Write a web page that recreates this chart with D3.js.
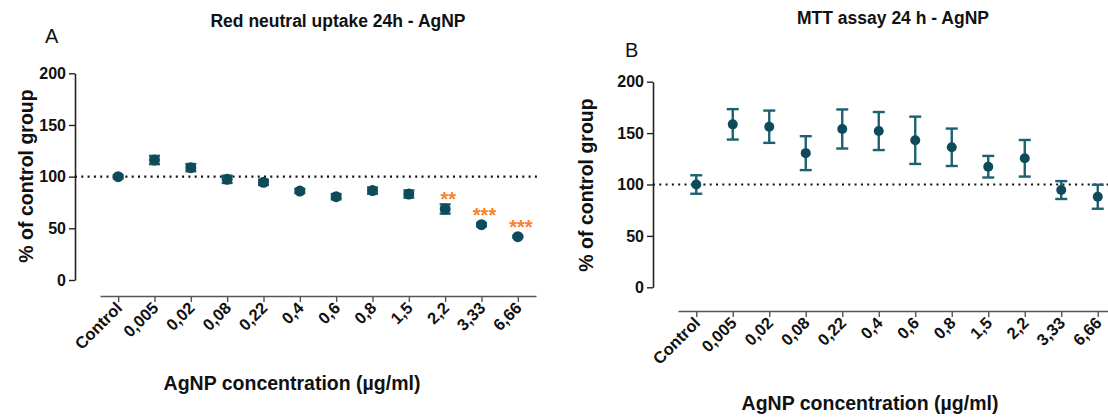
<!DOCTYPE html>
<html>
<head>
<meta charset="utf-8">
<script src="https://cdn.jsdelivr.net/npm/d3@7"></script>
<style>
  body { margin: 0; background: #fff; }
  svg { display: block; font-family: "Liberation Sans", Arial, sans-serif; }
</style>
</head>
<body>
<svg id="chart" width="1108" height="419"></svg>
<script>
// doses on the x axis (same for both panels)
const doses = ["Control", "0,005", "0,02", "0,08", "0,22", "0,4", "0,6", "0,8", "1,5", "2,2", "3,33", "6,66"];

// panel A - red neutral uptake
const nrMean = [100, 116.1, 108.7, 97.4, 94.5, 86.1, 80.6, 86.5, 83.2, 68.7, 53.5, 41.9];
const nrSem = [1.5, 4, 3.5, 3.5, 2.5, 2, 2.5, 3, 3.5, 4.5, 1.5, 1];
const nrSig = ["", "", "", "", "", "", "", "", "", "**", "***", "***"];

// panel B - MTT assay
const mttMean = [100, 158.5, 156.2, 130.5, 154, 152, 143, 136.2, 117.3, 125.5, 94.6, 88.1];
const mttSem = [9, 14.8, 15.7, 16.5, 19, 18.5, 23, 18.2, 10.5, 17.8, 8.7, 11.7];

const yTicks = [0, 50, 100, 150, 200];

const svg = d3.select("#chart");
const dotColor = "#0d4b5b";
const barColor = "#1d6170";
const starColor = "#ff7f27";

function drawPanel(p) {
    const g = svg.append("g");

    const x = d3.scalePoint().domain(doses).range(p.xRange).padding(0.5);
    const y = d3.scaleLinear().domain([0, 200]).range(p.yRange);

    // y axis
    const yAxis = g.append("g")
        .attr("transform", `translate(${p.yAxisX},0)`)
        .call(d3.axisLeft(y).tickValues(yTicks).tickSize(6).tickSizeOuter(0).tickPadding(3));
    yAxis.select(".domain").attr("stroke", "#222").attr("stroke-width", 1.6);
    yAxis.selectAll(".tick line").attr("stroke", "#222").attr("stroke-width", 1.4);
    yAxis.selectAll(".tick text")
        .attr("fill", "#111")
        .style("font-size", "16px")
        .style("font-weight", "bold");

    // x axis
    const xAxis = g.append("g")
        .attr("transform", `translate(0,${p.xAxisY})`)
        .call(d3.axisBottom(x).tickSize(6).tickSizeOuter(0).tickFormat(() => ""));
    xAxis.select(".domain").attr("stroke", "#555").attr("stroke-width", 1.6);
    xAxis.selectAll(".tick line").attr("stroke", "#555").attr("stroke-width", 1.4);

    g.append("g").selectAll("text")
        .data(doses)
        .join("text")
        .attr("transform", d => `translate(${x(d) + 5},${p.xAxisY + p.tickLabelDy}) rotate(-45)`)
        .attr("text-anchor", "end")
        .attr("fill", "#111")
        .style("font-size", "16.5px")
        .style("font-weight", "bold")
        .text(d => d);

    // dotted control line
    g.append("line")
        .attr("x1", p.yAxisX)
        .attr("x2", p.lineEnd)
        .attr("y1", y(100))
        .attr("y2", y(100))
        .attr("stroke", "#111")
        .attr("stroke-width", 2.2)
        .attr("stroke-dasharray", "2,4.3");

    // error bars
    const bars = g.append("g")
        .attr("stroke", barColor)
        .attr("stroke-width", 2.4)
        .selectAll("g")
        .data(doses)
        .join("g");
    bars.append("line")
        .attr("x1", d => x(d)).attr("x2", d => x(d))
        .attr("y1", (d, i) => y(p.mean[i] - p.sem[i]))
        .attr("y2", (d, i) => y(p.mean[i] + p.sem[i]));
    bars.append("line")
        .attr("x1", d => x(d) - p.cap).attr("x2", d => x(d) + p.cap)
        .attr("y1", (d, i) => y(p.mean[i] + p.sem[i]))
        .attr("y2", (d, i) => y(p.mean[i] + p.sem[i]));
    bars.append("line")
        .attr("x1", d => x(d) - p.cap).attr("x2", d => x(d) + p.cap)
        .attr("y1", (d, i) => y(p.mean[i] - p.sem[i]))
        .attr("y2", (d, i) => y(p.mean[i] - p.sem[i]));

    // means
    g.append("g").selectAll("circle")
        .data(doses)
        .join("circle")
        .attr("cx", d => x(d))
        .attr("cy", (d, i) => y(p.mean[i]))
        .attr("r", p.r)
        .attr("fill", dotColor);

    // significance stars
    if (p.sig) {
        g.append("g").selectAll("text")
            .data(doses)
            .join("text")
            .attr("x", d => x(d) + 3)
            .attr("y", (d, i) => y(p.mean[i]) - 3)
            .attr("text-anchor", "middle")
            .attr("fill", starColor)
            .style("font-size", "20px")
            .style("font-weight", "bold")
            .text((d, i) => p.sig[i]);
    }

    // titles and labels
    g.append("text")
        .attr("x", p.titleX).attr("y", p.titleY)
        .attr("text-anchor", "middle")
        .attr("fill", "#111")
        .style("font-size", "17.5px").style("font-weight", "bold")
        .text(p.title);

    g.append("text")
        .attr("x", p.letterX).attr("y", p.letterY)
        .attr("fill", "#111")
        .style("font-size", "20px")
        .text(p.letter);

    g.append("text")
        .attr("transform", `translate(${p.yLabelX},${p.yLabelY}) rotate(-90)`)
        .attr("text-anchor", "middle")
        .attr("fill", "#111")
        .style("font-size", "19.5px").style("font-weight", "bold")
        .text("% of control group");

    g.append("text")
        .attr("x", p.xLabelX).attr("y", p.xLabelY)
        .attr("text-anchor", "middle")
        .attr("fill", "#111")
        .style("font-size", "19.5px").style("font-weight", "bold")
        .text("AgNP concentration (\u00b5g/ml)");
}

drawPanel({
    mean: nrMean, sem: nrSem, sig: nrSig,
    xRange: [100, 536], yRange: [280, 73.3],
    yAxisX: 75, xAxisY: 296, lineEnd: 538, tickLabelDy: 13,
    r: 5.5, cap: 5.5,
    title: "Red neutral uptake 24h - AgNP", titleX: 338, titleY: 27,
    letter: "A", letterX: 45, letterY: 43,
    yLabelX: 33, yLabelY: 176,
    xLabelX: 292, xLabelY: 390
});

drawPanel({
    mean: mttMean, sem: mttSem, sig: null,
    xRange: [678, 1116], yRange: [287.3, 81.7],
    yAxisX: 653, xAxisY: 311, lineEnd: 1108, tickLabelDy: 13,
    r: 5, cap: 6,
    title: "MTT assay 24 h - AgNP", titleX: 893, titleY: 24,
    letter: "B", letterX: 625, letterY: 57,
    yLabelX: 593, yLabelY: 185,
    xLabelX: 870, xLabelY: 410
});
</script>
</body>
</html>
